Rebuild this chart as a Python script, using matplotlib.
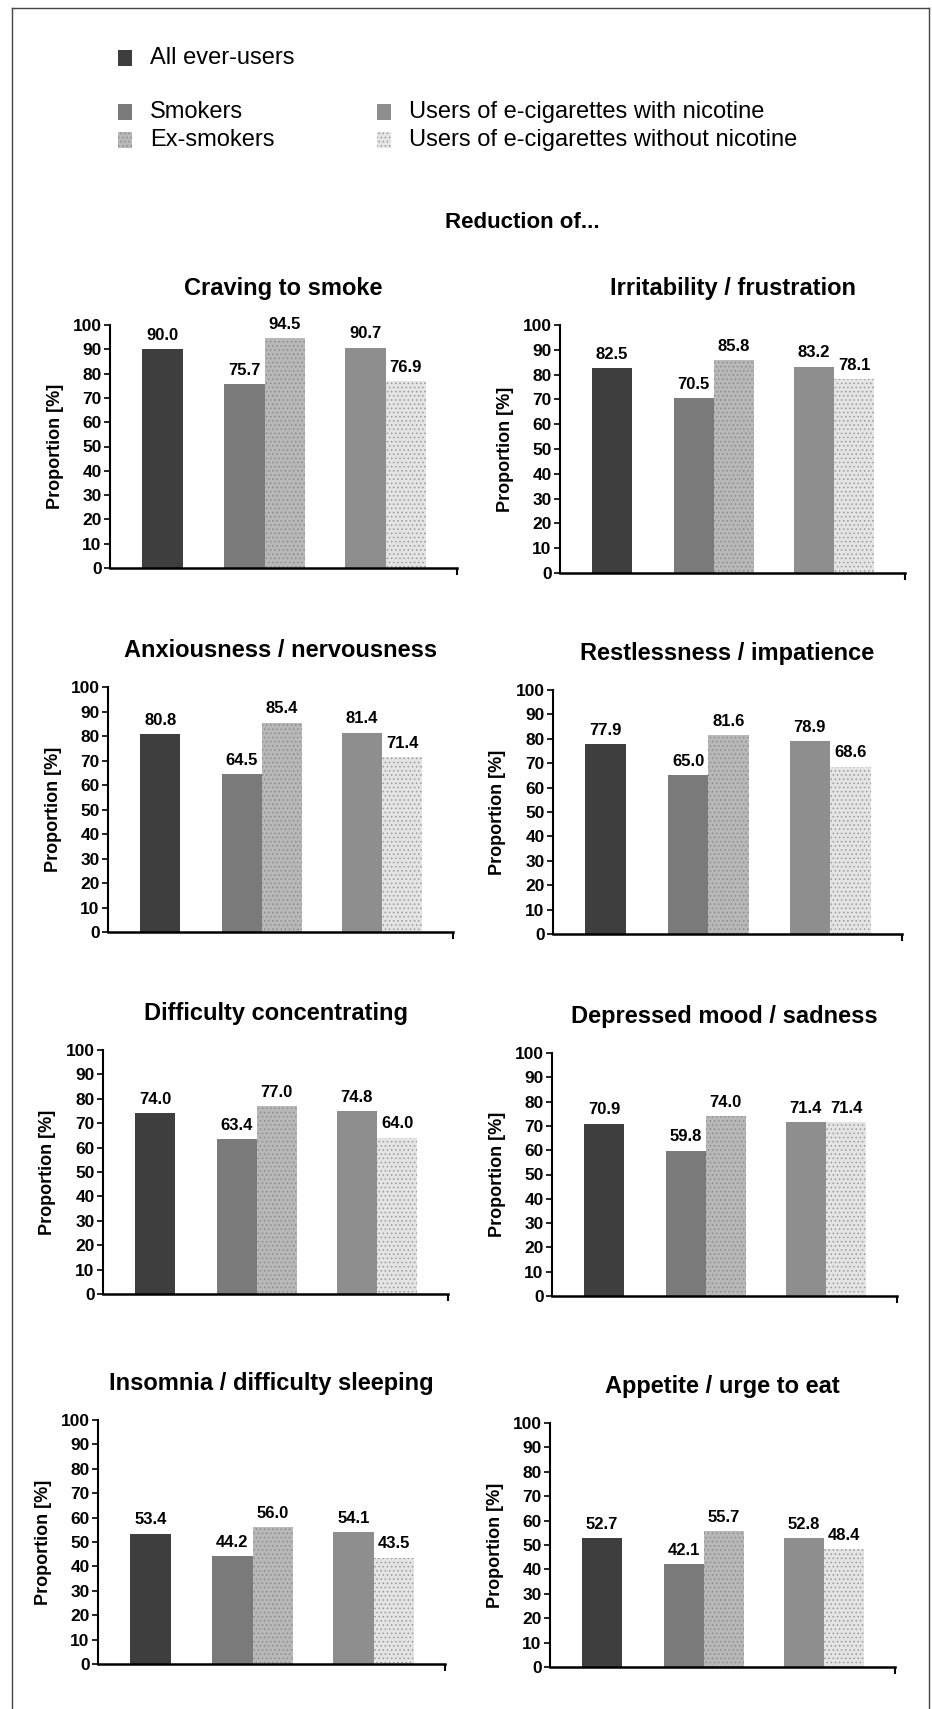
import numpy as np
import matplotlib
matplotlib.use('Agg')
import matplotlib.pyplot as plt
from matplotlib.patches import Rectangle
from matplotlib.lines import Line2D

plt.rcParams['font.family'] = ['Liberation Sans', 'DejaVu Sans']
plt.rcParams['hatch.linewidth'] = 0.6

# symptom panels (reading order: left to right, top to bottom)
symptoms = ['Craving to smoke', 'Irritability / frustration',
            'Anxiousness / nervousness', 'Restlessness / impatience',
            'Difficulty concentrating', 'Depressed mood / sadness',
            'Insomnia / difficulty sleeping', 'Appetite / urge to eat']

# proportion [%] reporting a reduction, per group
all_ever_users = [90.0, 82.5, 80.8, 77.9, 74.0, 70.9, 53.4, 52.7]
smokers = [75.7, 70.5, 64.5, 65.0, 63.4, 59.8, 44.2, 42.1]
ex_smokers = [94.5, 85.8, 85.4, 81.6, 77.0, 74.0, 56.0, 55.7]
with_nicotine = [90.7, 83.2, 81.4, 78.9, 74.8, 71.4, 54.1, 52.8]
without_nicotine = [76.9, 78.1, 71.4, 68.6, 64.0, 71.4, 43.5, 48.4]

group_names = ['All ever-users', 'Smokers', 'Ex-smokers',
               'Users of e-cigarettes with nicotine',
               'Users of e-cigarettes without nicotine']
yticks = list(range(0, 101, 10))

# styling
colors = ['#3e3e3e', '#7a7a7a', '#b8b8b8', '#8e8e8e', '#e4e4e4']
hatches = [None, None, '....', None, '....']
hatch_cols = ['#3e3e3e', '#7a7a7a', '#8c8c8c', '#8e8e8e', '#9a9a9a']
bar_x = [1.3, 3.33, 4.33, 6.33, 7.33]
xmax = 8.6

W, H = 932, 1709
fig = plt.figure(figsize=(W / 100, H / 100), dpi=100)

# panel boxes in pixels: x0, x1, y(100), y(0)
boxes = [(110, 457, 325, 568), (560, 905, 325, 573),
         (108, 453, 687, 932), (553, 902, 690, 934),
         (103, 448, 1050, 1294), (552, 897, 1053, 1296),
         (98, 445, 1420, 1664), (550, 895, 1423, 1667)]

series = [all_ever_users, smokers, ex_smokers, with_nicotine, without_nicotine]

for i, (title, (x0, x1, yt, yb)) in enumerate(zip(symptoms, boxes)):
    ax = fig.add_axes([x0 / W, 1 - yb / H, (x1 - x0) / W, (yb - yt) / H])
    for j, s in enumerate(series):
        ax.bar(bar_x[j], s[i], width=1.0, color=colors[j], hatch=hatches[j],
               edgecolor=hatch_cols[j], linewidth=0)
        ax.annotate(f'{s[i]:.1f}', xy=(bar_x[j], s[i]), xytext=(0, 10),
                    textcoords='offset points', ha='center', va='center',
                    fontsize=12, fontweight='bold', annotation_clip=False)
    ax.set_xlim(0, xmax)
    ax.set_ylim(0, 100)
    ax.set_yticks(yticks)
    ax.set_yticklabels([str(t) for t in yticks], fontsize=12.5, fontweight='bold')
    ax.set_xticks([xmax])
    ax.set_xticklabels([''])
    ax.tick_params(axis='y', direction='out', length=4, width=1.2, pad=2)
    ax.tick_params(axis='x', direction='out', length=5, width=1.5)
    for sp in ['top', 'right']:
        ax.spines[sp].set_visible(False)
    ax.spines['left'].set_linewidth(1.5)
    ax.spines['bottom'].set_linewidth(1.8)
    ax.annotate(title, xy=(0.5, 1), xycoords='axes fraction', xytext=(0, 26.6),
                textcoords='offset points', ha='center', va='center',
                fontsize=17, fontweight='bold')
    ax.annotate('Proportion [%]', xy=(0, 0.5), xycoords='axes fraction',
                xytext=(-39.6, 0), textcoords='offset points', ha='center',
                va='center', rotation=90, fontsize=13, fontweight='bold')

# legend drawn by hand
legend_pos = [(118, 58), (118, 112), (118, 140), (377, 112), (377, 140)]
for j, (lx, ly) in enumerate(legend_pos):
    fig.add_artist(Rectangle((lx / W, 1 - (ly + 7.5) / H), 14 / W, 15 / H,
                             transform=fig.transFigure, facecolor=colors[j],
                             hatch=hatches[j], edgecolor=hatch_cols[j], linewidth=0))
    fig.text((lx + 32) / W, 1 - ly / H, group_names[j], fontsize=17,
             ha='left', va='center')

fig.text(445 / W, 1 - 222 / H, 'Reduction of...', fontsize=16,
         fontweight='bold', ha='left', va='center')

# scanned page frame
frame = dict(color='#444444', linewidth=1.0, transform=fig.transFigure)
fig.add_artist(Line2D([12 / W, 12 / W], [0, 1 - 8 / H], **frame))
fig.add_artist(Line2D([12 / W, 929 / W], [1 - 8 / H, 1 - 8 / H], **frame))
fig.add_artist(Line2D([929 / W, 929 / W], [0, 1 - 8 / H], **frame))

fig.savefig('out.png', dpi=100)
